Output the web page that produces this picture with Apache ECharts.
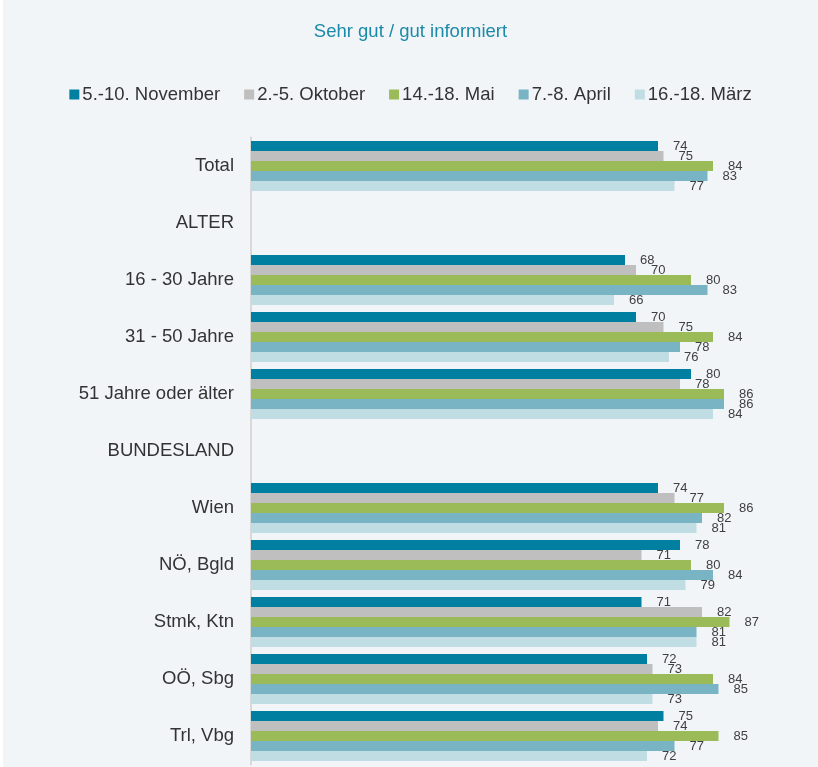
<!DOCTYPE html>
<html>
<head>
<meta charset="utf-8">
<script src="https://cdn.jsdelivr.net/npm/echarts@6/dist/echarts.min.js"></script>
<style>
  html, body { margin: 0; padding: 0; background: #ffffff; }
  #main { position: absolute; left: 3px; top: 0; width: 815px; height: 767px; background: #f2f5f8; }
</style>
</head>
<body>
<div id="main"></div>
<script>
// Kategorien (ALTER / BUNDESLAND sind Zwischenüberschriften ohne Werte)
var categories = ['Total', 'ALTER', '16 - 30 Jahre', '31 - 50 Jahre', '51 Jahre oder älter',
    'BUNDESLAND', 'Wien', 'NÖ, Bgld', 'Stmk, Ktn', 'OÖ, Sbg', 'Trl, Vbg'];
var seriesNames = ['5.-10. November', '2.-5. Oktober', '14.-18. Mai', '7.-8. April', '16.-18. März'];
var november = [74, '-', 68, 70, 80, '-', 74, 78, 71, 72, 75];
var oktober  = [75, '-', 70, 75, 78, '-', 77, 71, 82, 73, 74];
var mai      = [84, '-', 80, 84, 86, '-', 86, 80, 87, 84, 85];
var april    = [83, '-', 83, 78, 86, '-', 82, 84, 81, 85, 77];
var maerz    = [77, '-', 66, 76, 84, '-', 81, 79, 81, 73, 72];
var colors = ['#007fa0', '#bfbfbf', '#9bbb59', '#79b4c4', '#c0dde3'];

var myChart = echarts.init(document.getElementById('main'));
var values = [november, oktober, mai, april, maerz];

var series = [];
for (var i = 0; i < values.length; i++) {
    series.push({
        name: seriesNames[i],
        type: 'bar',
        data: values[i],
        barGap: '0%',
        barCategoryGap: '12%',
        itemStyle: { color: colors[i] },
        label: {
            show: true,
            position: 'right',
            distance: 15,
            color: '#404040',
            fontSize: 13,
            fontFamily: 'Liberation Sans'
        }
    });
}

var option = {
    backgroundColor: '#f2f5f8',
    title: {
        text: 'Sehr gut / gut informiert',
        left: 'center',
        top: 17,
        textStyle: { color: '#1a8aa8', fontSize: 18.5, fontWeight: 'normal', fontFamily: 'Liberation Sans' }
    },
    legend: {
        top: 80,
        left: 'center',
        icon: 'rect',
        itemWidth: 10,
        itemHeight: 10,
        itemGap: 24,
        textStyle: { color: '#333333', fontSize: 18.5, fontFamily: 'Liberation Sans', padding: [0, 0, 0, -2] },
        data: seriesNames
    },
    grid: { left: 248, right: 17, top: 137.5, bottom: 2.5, containLabel: false },
    xAxis: {
        type: 'value',
        min: 0,
        max: 100,
        show: false
    },
    yAxis: {
        type: 'category',
        inverse: true,
        data: categories,
        axisLine: { show: true, lineStyle: { color: '#d9d9d9', width: 2 } },
        axisTick: { show: false },
        axisLabel: { margin: 17, color: '#333333', fontSize: 18.5, fontFamily: 'Liberation Sans' }
    },
    series: series
};

myChart.setOption(option);
window.addEventListener('resize', function () {
    myChart.resize();
});
</script>
</body>
</html>
